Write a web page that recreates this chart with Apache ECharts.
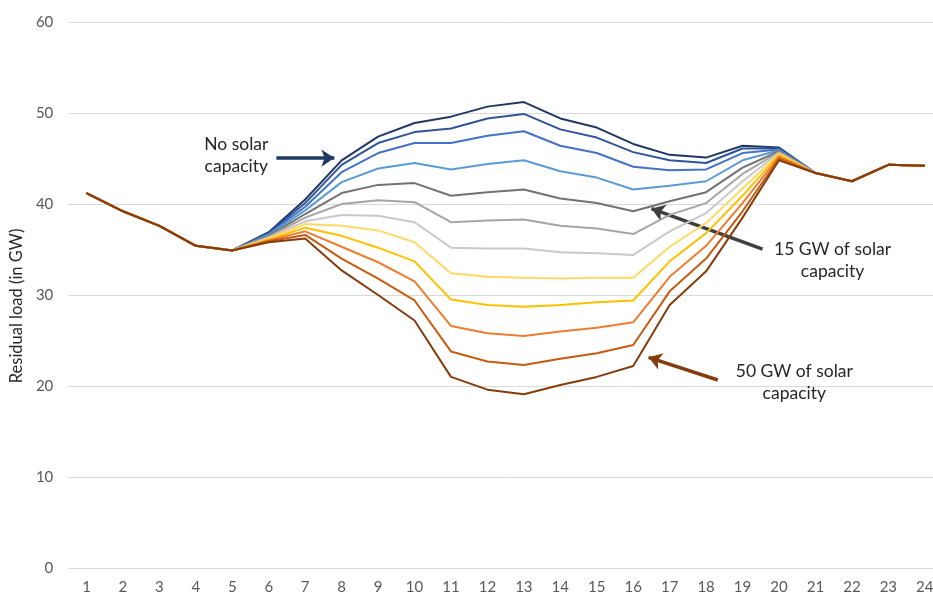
<!DOCTYPE html>
<html>
<head>
<meta charset="utf-8">
<script src="https://cdn.jsdelivr.net/npm/echarts@6/dist/echarts.min.js"></script>
<style>html,body{margin:0;padding:0;background:#fff;overflow:hidden;width:933px;height:596px;}#chart{width:943px;height:596px;}</style>
</head>
<body>
<div id="chart"></div>
<script>
const hours = ['1','2','3','4','5','6','7','8','9','10','11','12','13','14','15','16','17','18','19','20','21','22','23','24'];
const yTicks = { min: 0, max: 60, interval: 10 };

const line01 = [41.2,39.2,37.6,35.4,34.9,36.9,40.5,44.8,47.4,48.9,49.6,50.7,51.2,49.4,48.4,46.6,45.4,45.1,46.4,46.2,43.4,42.5,44.3,44.2];
const line02 = [41.2,39.2,37.6,35.4,34.9,36.8,40.1,44.3,46.7,47.9,48.3,49.4,49.9,48.2,47.3,45.7,44.8,44.5,46.1,46.1,43.4,42.5,44.3,44.2];
const line03 = [41.2,39.2,37.6,35.4,34.9,36.7,39.7,43.5,45.6,46.7,46.7,47.5,48.0,46.4,45.6,44.1,43.7,43.8,45.6,46.0,43.4,42.5,44.3,44.2];
const line04 = [41.2,39.2,37.6,35.4,34.9,36.6,39.3,42.4,43.9,44.5,43.8,44.4,44.8,43.6,42.9,41.6,42.0,42.5,44.8,45.9,43.4,42.5,44.3,44.2];
const line05 = [41.2,39.2,37.6,35.4,34.9,36.5,38.9,41.2,42.1,42.3,40.9,41.3,41.6,40.6,40.1,39.2,40.3,41.3,44.0,45.8,43.4,42.5,44.3,44.2];
const line06 = [41.2,39.2,37.6,35.4,34.9,36.4,38.5,40.0,40.4,40.2,38.0,38.2,38.3,37.6,37.3,36.7,38.8,40.1,43.3,45.7,43.4,42.5,44.3,44.2];
const line07 = [41.2,39.2,37.6,35.4,34.9,36.3,38.1,38.8,38.7,38.0,35.2,35.1,35.1,34.7,34.6,34.4,37.0,39.0,42.5,45.6,43.4,42.5,44.3,44.2];
const line08 = [41.2,39.2,37.6,35.4,34.9,36.2,37.8,37.6,37.1,35.8,32.4,32.0,31.9,31.8,31.9,31.9,35.3,37.9,41.7,45.5,43.4,42.5,44.3,44.2];
const line09 = [41.2,39.2,37.6,35.4,34.9,36.1,37.4,36.5,35.2,33.7,29.5,28.9,28.7,28.9,29.2,29.4,33.7,36.8,40.9,45.4,43.4,42.5,44.3,44.2];
const line10 = [41.2,39.2,37.6,35.4,34.9,36.0,37.0,35.3,33.6,31.5,26.6,25.8,25.5,26.0,26.4,27.0,32.0,35.4,40.1,45.2,43.4,42.5,44.3,44.2];
const line11 = [41.2,39.2,37.6,35.4,34.9,35.9,36.6,34.0,31.8,29.4,23.8,22.7,22.3,23.0,23.6,24.5,30.4,34.0,39.2,45.0,43.4,42.5,44.3,44.2];
const line12 = [41.2,39.2,37.6,35.4,34.9,35.8,36.2,32.7,30.0,27.2,21.0,19.6,19.1,20.1,21.0,22.2,28.9,32.6,38.5,44.8,43.4,42.5,44.3,44.2];

const seriesNames = ['No solar capacity','Scenario 2','Scenario 3','Scenario 4','15 GW of solar capacity','Scenario 6','Scenario 7','Scenario 8','Scenario 9','Scenario 10','Scenario 11','50 GW of solar capacity'];
const seriesData = [line01,line02,line03,line04,line05,line06,line07,line08,line09,line10,line11,line12];
const seriesColors = ['#1F3864','#2F5597','#4472C4','#5B9BD5','#767171','#A5A5A5','#C9C9C9','#FFD966','#FFC000','#ED7D31','#C55A11','#843C0C'];

// annotations (in data coordinates: x = hour position, y = GW)
const annoTexts = [
  { text: 'No solar\ncapacity', at: [5.11, 45.3] },
  { text: '15 GW of solar\ncapacity', at: [21.47, 33.85] },
  { text: '50 GW of solar\ncapacity', at: [20.42, 20.38] }
];
const annoArrows = [
  { from: [6.21, 45.05], to: [7.8, 45.05], color: '#1F3864' },
  { from: [19.55, 35.05], to: [16.5, 39.5], color: '#404040' },
  { from: [18.32, 20.66], to: [16.42, 23.15], color: '#843C0C' }
];

const FONT = 'Lato, "Open Sans", sans-serif';
const chart = echarts.init(document.getElementById('chart'), null, { renderer: 'canvas' });

const series = seriesData.map((d, i) => ({
  name: seriesNames[i],
  type: 'line',
  data: d,
  xAxisIndex: 0,
  yAxisIndex: 0,
  showSymbol: false,
  symbol: 'none',
  smooth: false,
  lineStyle: { width: 2, color: seriesColors[i] },
  itemStyle: { color: seriesColors[i] },
  z: 2 + i
}));

series.push({
  name: 'annotations',
  type: 'line',
  xAxisIndex: 1,
  yAxisIndex: 0,
  data: [],
  silent: true,
  z: 30,
  markLine: {
    silent: true,
    animation: false,
    symbol: ['none', 'arrow'],
    symbolSize: 13,
    label: { show: false },
    data: annoArrows.map(a => [
      { coord: a.from, lineStyle: { color: a.color, width: 3.5, type: 'solid' }, itemStyle: { color: a.color } },
      { coord: a.to }
    ])
  },
  markPoint: {
    silent: true,
    animation: false,
    symbol: 'circle',
    symbolSize: 1,
    itemStyle: { color: 'rgba(0,0,0,0)' },
    label: {
      show: true,
      position: 'inside',
      color: '#262626',
      fontSize: 17.5,
      lineHeight: 22,
      fontFamily: FONT,
      align: 'center',
      verticalAlign: 'middle'
    },
    data: annoTexts.map(t => ({ coord: t.at, value: 0, label: { formatter: t.text } }))
  }
});

chart.setOption({
  animation: false,
  backgroundColor: '#ffffff',
  grid: { left: 67, right: 0, top: 22, bottom: 28, containLabel: false },
  xAxis: [
    {
      type: 'category',
      data: hours,
      boundaryGap: true,
      axisLine: { show: false },
      axisTick: { show: false },
      axisLabel: { color: '#595959', fontSize: 15, fontFamily: FONT, margin: 12 },
      splitLine: { show: false }
    },
    {
      type: 'value',
      min: 0.5,
      max: 24.5,
      show: false
    }
  ],
  yAxis: {
    type: 'value',
    min: yTicks.min,
    max: yTicks.max,
    interval: yTicks.interval,
    name: 'Residual load (in GW)',
    nameLocation: 'middle',
    nameGap: 40,
    nameTextStyle: { color: '#262626', fontSize: 16.5, fontFamily: FONT, padding: [0, 22, 0, 0] },
    axisLine: { show: false },
    axisTick: { show: false },
    axisLabel: { color: '#595959', fontSize: 15, fontFamily: FONT, margin: 15 },
    splitLine: { lineStyle: { color: '#D9D9D9', width: 1 } }
  },
  series: series
});
</script>
</body>
</html>
